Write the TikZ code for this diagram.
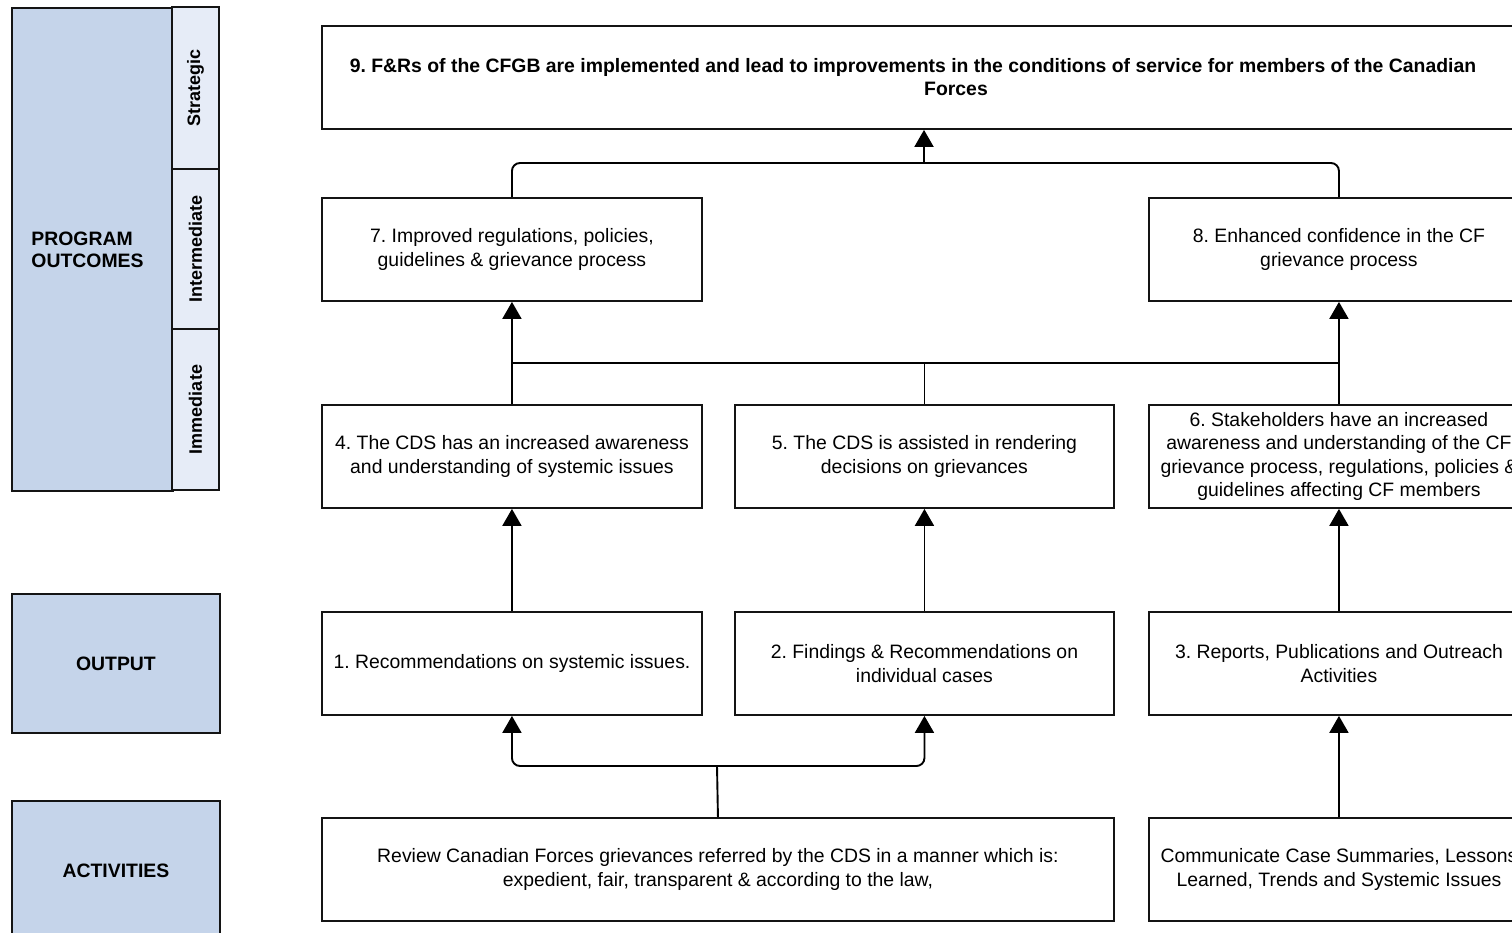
\documentclass[tikz,border=0pt]{standalone}
\usepackage{fontspec}
\setmainfont{Liberation Sans}
\usetikzlibrary{arrows.meta,calc}
\definecolor{panelblue}{RGB}{197,212,234}
\definecolor{panelside}{RGB}{230,236,247}
\definecolor{edge}{RGB}{20,20,20}
\tikzset{
  box/.style={draw=edge, line width=1.9pt, fill=white, inner sep=0pt, anchor=north west,
    minimum width=380pt, minimum height=103pt, align=center,
    font=\fontsize{19.4pt}{23.5pt}\selectfont},
  panel/.style={draw=edge, line width=1.9pt, fill=panelblue, inner sep=0pt, anchor=north west,
    align=center, font=\bfseries\fontsize{19.4pt}{22pt}\selectfont},
  sidecell/.style={draw=edge, line width=1.9pt, fill=panelside, inner sep=0pt, rotate=90,
    minimum height=47pt, font=\bfseries\fontsize{18pt}{21pt}\selectfont},
  link/.style={line width=1.9pt, draw=black},
  arrowlink/.style={link, -{Triangle[width=19pt,length=17pt]}},
}
\begin{document}
\frenchspacing
\begin{tikzpicture}[x=1pt,y=-1pt]
\fill[white] (0,0) rectangle (1512,933);
\useasboundingbox (0,0) rectangle (1512,933);

% left panels
\node[panel, minimum width=161pt, minimum height=483pt, text width=122pt, inner xsep=19.5pt, align=left] (po) at (11,7) {PROGRAM\\OUTCOMES};
\node[sidecell, minimum width=162pt] (strat) at (195.5,88) {Strategic};
\node[sidecell, minimum width=160pt] (inter) at (195.5,249) {Intermediate};
\node[sidecell, minimum width=161pt] (immed) at (195.5,409.5) {Immediate};
\node[panel, minimum width=208pt, minimum height=139pt] (out) at (11,593) {OUTPUT};
\node[panel, minimum width=208pt, minimum height=139pt] (act) at (11,800) {ACTIVITIES};

% main boxes
\node[box, minimum width=1280pt] (n9) at (321,25) {};
\node[font=\bfseries\fontsize{19.4pt}{23.5pt}\selectfont, align=center, inner sep=0pt] (n9text) at (913,77)
  {9. F\&Rs of the CFGB are implemented and lead to improvements in the conditions of service for members of the Canadian\\\hspace*{86pt}Forces};

\node[box] (n7) at (321,197) {7. Improved regulations, policies,\\guidelines \& grievance process};
\node[box] (n8) at (1148,197) {8. Enhanced confidence in the CF\\grievance process};

\node[box] (n4) at (321,404) {4. The CDS has an increased awareness\\and understanding of systemic issues};
\node[box, minimum width=379pt] (n5) at (734,404) {5. The CDS is assisted in rendering\\decisions on grievances};
\node[box] (n6) at (1148,404) {6. Stakeholders have an increased\\awareness and understanding of the CF\\grievance process, regulations, policies \&\\guidelines affecting CF members};

\node[box] (n1) at (321,611) {1. Recommendations on systemic issues.};
\node[box, minimum width=379pt] (n2) at (734,611) {2. Findings \& Recommendations on\\individual cases};
\node[box] (n3) at (1148,611) {3. Reports, Publications and Outreach\\Activities};

\node[box, minimum width=792pt] (a1) at (321,817) {Review Canadian Forces grievances referred by the CDS in a manner which is:\\expedient, fair, transparent \& according to the law,};
\node[box] (a2) at (1148,817) {Communicate Case Summaries, Lessons\\Learned, Trends and Systemic Issues};

% connectors
\coordinate (topbus) at (924,163);
\coordinate (midbus) at (924,363);
\coordinate (lowbus) at (717,766);

\draw[link, rounded corners=8pt] (n7.north) |- (topbus) -| (n8.north);
\draw[arrowlink] (topbus) -- (topbus |- n9.south);

\draw[link] (n4.north) |- (n6.north |- midbus) -- (n6.north);
\draw[link] (n5.north) -- (n5.north |- midbus);
\draw[arrowlink] (n4.north |- midbus) -- (n7.south);
\draw[arrowlink] (n6.north |- midbus) -- (n8.south);

\draw[arrowlink] (n1.north) -- (n4.south);
\draw[arrowlink] (n2.north) -- (n5.south);
\draw[arrowlink] (n3.north) -- (n6.south);

\draw[link] (a1.north) -- (lowbus);
\draw[arrowlink, rounded corners=8pt] (lowbus) -| (n1.south);
\draw[arrowlink, rounded corners=8pt] (lowbus) -| (n2.south);
\draw[arrowlink] (a2.north) -- (n3.south);
\end{tikzpicture}
\end{document}
